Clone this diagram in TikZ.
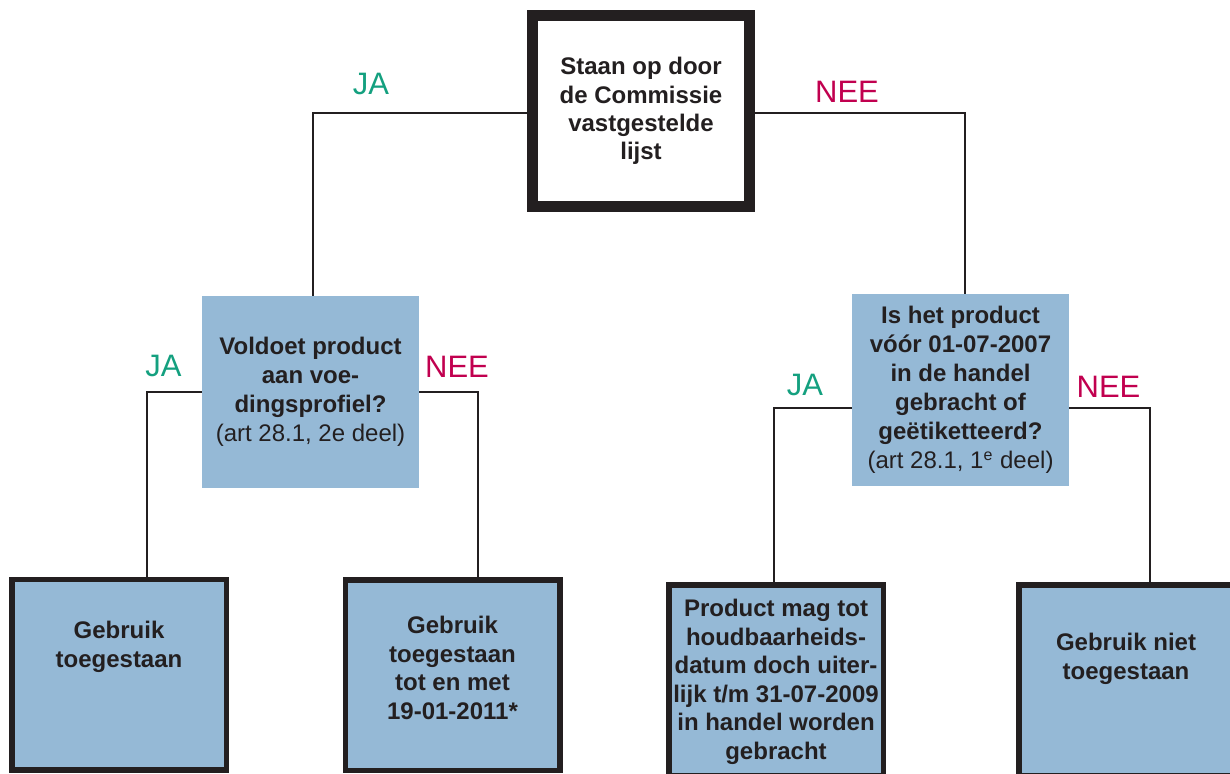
\documentclass[tikz,border=0pt]{standalone}
\usepackage{fontspec}
\setmainfont{Liberation Sans}
\usepackage{xcolor}
\usepackage{tikz}
\usetikzlibrary{positioning}
\definecolor{boxblue}{HTML}{95B9D6}
\definecolor{jagreen}{HTML}{14A07F}
\definecolor{neered}{HTML}{C1004F}
\definecolor{boxink}{HTML}{231F20}
\newcommand{\boxtext}[2]{\parbox[c][90pt][t]{104pt}{\centering\vspace*{#1}#2}}

\begin{document}
\begin{tikzpicture}[x=0.5pt,y=-0.5pt,text=boxink,
  startbox/.style={draw=boxink,line width=5.5pt,fill=white,minimum width=108.5pt,minimum height=95.5pt,inner sep=0pt,align=center,font=\fontsize{12}{14.2}\selectfont\bfseries},
  askbox/.style={fill=boxblue,minimum width=108.5pt,minimum height=96pt,inner sep=0pt,align=center,font=\fontsize{12}{14.5}\selectfont\bfseries},
  endbox/.style={draw=boxink,line width=2.75pt,fill=boxblue,minimum width=107.25pt,minimum height=95.25pt,inner sep=0pt,font=\fontsize{12}{14.3}\selectfont\bfseries},
  jalabel/.style={text=jagreen,inner sep=0pt,font=\fontsize{15.5}{18}\selectfont},
  neelabel/.style={text=neered,inner sep=0pt,font=\fontsize{15.5}{18}\selectfont},
  link/.style={draw=boxink,line width=1pt}]
\useasboundingbox (0,0) rectangle (1230,773);

\node[startbox] (lijst) at (641,111) {Staan op door\\de Commissie\\vastgestelde\\lijst};
\node[askbox] (voed) at (310.5,392) {Voldoet product\\aan voe-\\dingsprofiel?\\\mdseries(art 28.1, 2e deel)};
\node[askbox] (handel) at (960.5,390) {Is het product\\vóór 01-07-2007\\in de handel\\gebracht of\\geëtiketteerd?\\\mdseries(art 28.1, 1\textsuperscript{e} deel)};

\node[endbox] (toe) at (119,674.5) {\boxtext{18.25pt}{Gebruik\\toegestaan}};
\node[endbox] (tot) at (452.5,675) {\boxtext{15.5pt}{Gebruik\\toegestaan\\tot en met\\19-01-2011*}};
\node[endbox] (houdbaar) at (776,680) {\boxtext{4.5pt}{Product mag tot\\houdbaarheids-\\datum doch uiter-\\lijk t/m 31-07-2009\\in handel worden\\gebracht}};
\node[endbox] (niet) at (1126,680) {\boxtext{21.5pt}{Gebruik niet\\toegestaan}};

\draw[link] ([yshift=-1pt]lijst.west) -| ([xshift=1.25pt]voed.north);
\draw[link] ([yshift=-1pt]lijst.east) -| ([xshift=2.25pt]handel.north);
\draw[link] (voed.west) -| ([xshift=14pt]toe.north);
\draw[link] (voed.east) -| ([xshift=12.75pt]tot.north);
\draw[link] ([yshift=-9pt]handel.west) -| ([xshift=-1pt]houdbaar.north);
\draw[link] ([yshift=-9pt]handel.east) -| ([xshift=12pt]niet.north);

\node[jalabel] (ja1) at (371,84) {JA};
\node[neelabel] (nee1) at (847,92) {NEE};
\node[jalabel] (ja2) at (163.5,366) {JA};
\node[neelabel] (nee2) at (457,367) {NEE};
\node[jalabel] (ja3) at (805,385) {JA};
\node[neelabel] (nee3) at (1108.5,386.5) {NEE};
\end{tikzpicture}
\end{document}
